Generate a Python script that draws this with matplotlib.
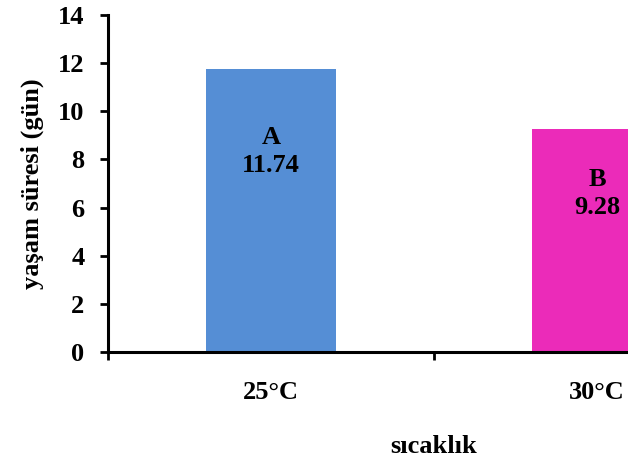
"""
Yaşam süresi bar chart
"""
import matplotlib
matplotlib.use("Agg")
import matplotlib.pyplot as plt

temps = ["25°C", "30°C"]
lifespan = [11.74, 9.28]
groups = ["A", "B"]
colors = ["#558ed5", "#eb2bb9"]

plt.rcParams['font.family'] = ['Liberation Serif', 'DejaVu Serif']
plt.rcParams['font.weight'] = 'bold'

fig = plt.figure(figsize=(6.28, 4.61), dpi=100)
# axes run past the right edge, so the second bar is cut off like in the source
ax = fig.add_axes([108 / 628, 109 / 461, 652 / 628, 337 / 461])

xs = list(range(len(temps)))
ax.bar(xs, lifespan, width=0.4, color=colors)

for x, val, grp in zip(xs, lifespan, groups):
    ax.text(x, val * 0.71, grp + "\n" + f"{val:.2f}", ha="center", va="center",
            fontsize=19, fontweight="bold", linespacing=1.3)

ax.set_xlim(-0.5, 1.5)
ax.set_ylim(0, 14)
ax.set_yticks(range(0, 15, 2))
ax.set_xticks(xs)
ax.set_xticklabels(temps)
ax.set_xticks([-0.5, 0.5, 1.5], minor=True)

ax.tick_params(axis="x", which="major", length=0, pad=21, labelsize=19)
ax.tick_params(axis="x", which="minor", length=6, width=2, direction="out")
ax.tick_params(axis="y", length=6, width=2, pad=11, labelsize=19)

for side in ("top", "right"):
    ax.spines[side].set_visible(False)
for side in ("left", "bottom"):
    ax.spines[side].set_linewidth(2.2)

ax.set_ylabel("yaşam süresi (gün)", fontsize=19, fontweight="bold", labelpad=10)
ax.set_xlabel("sıcaklık", fontsize=19, fontweight="bold", labelpad=22)

fig.savefig("out.png", dpi=100)
